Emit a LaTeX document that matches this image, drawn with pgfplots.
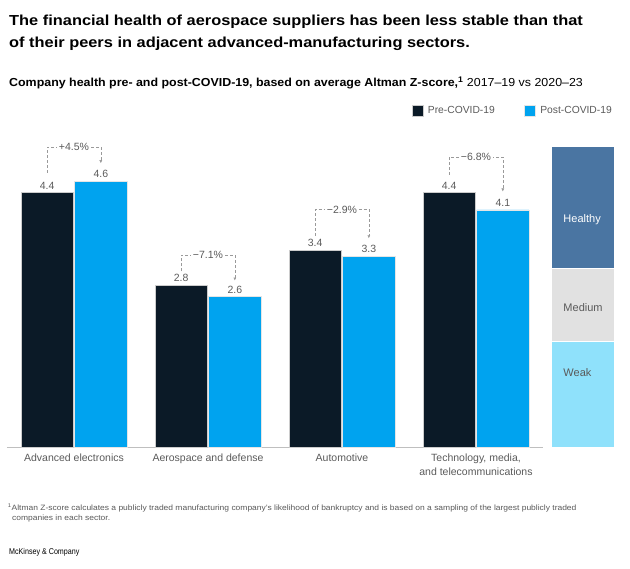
\documentclass[border=0pt]{standalone}
\usepackage{fontspec}
\setmainfont{Liberation Sans}
\newfontfamily\titlefont[FakeStretch=1.13]{Liberation Sans}
\newfontfamily\subfont[FakeStretch=1.07]{Liberation Sans}
\newfontfamily\notefont[FakeStretch=1.1]{Liberation Sans}
\newfontfamily\brandfont[FakeStretch=0.85]{Liberation Sans}
\usepackage{pgfplots}
\pgfplotsset{compat=1.18}
\usetikzlibrary{arrows.meta}
\definecolor{pre}{HTML}{0B1A27}
\definecolor{post}{HTML}{00A3EF}
\definecolor{healthy}{HTML}{4A75A2}
\definecolor{medium}{HTML}{E1E1E1}
\definecolor{weak}{HTML}{8FE1FB}
\definecolor{lab}{HTML}{5A5A5A}
\definecolor{dashc}{HTML}{9A9A9A}
\begin{document}
\begin{tikzpicture}[x=1pt,y=1pt]
\path[use as bounding box] (0pt,0pt) rectangle (630pt,569pt);
% titles
\node[anchor=base west, inner sep=0] at (9pt,543.3pt) {\titlefont\fontsize{14.5}{17}\selectfont\bfseries The financial health of aerospace suppliers has been less stable than that};
\node[anchor=base west, inner sep=0] at (9pt,521.5pt) {\titlefont\fontsize{14.5}{17}\selectfont\bfseries of their peers in adjacent advanced-manufacturing sectors.};
\node[anchor=base west, inner sep=0] at (9pt,482.3pt) {\subfont\fontsize{11.6}{14}\selectfont\textbf{Company health pre- and post-COVID-19, based on average Altman Z-score,\textsuperscript{1}} 2017–19 vs 2020–23};
% footnote
\node[anchor=base west, inner sep=0, text=black!65] at (7.7pt,58.3pt) {\notefont\fontsize{7.7}{10}\selectfont \textsuperscript{1}Altman Z-score calculates a publicly traded manufacturing company’s likelihood of bankruptcy and is based on a sampling of the largest publicly traded};
\node[anchor=base west, inner sep=0, text=black!65] at (12pt,48.3pt) {\notefont\fontsize{7.7}{10}\selectfont companies in each sector.};
\node[anchor=base west, inner sep=0] at (9pt,14pt) {\brandfont\fontsize{8.4}{10}\selectfont McKinsey \& Company};

\begin{axis}[
  at={(7pt,122pt)}, anchor=south west,
  scale only axis, width=536pt, height=300.6pt,
  xmin=-0.5, xmax=3.5, ymin=0, ymax=5.2,
  axis x line=bottom, axis y line=none,
  x axis line style={-, draw=black!25, line width=0.8pt},
  xtick={0,1,2,3}, major tick length=0pt,
  xticklabels={Advanced electronics, Aerospace and defense, Automotive, {Technology, media,\\and telecommunications}},
  xticklabel style={font=\fontsize{10.5}{13.6}\selectfont, text=lab, align=center, yshift=-3.5pt},
  clip=false,
  /pgf/number format/assume math mode=true,
  /pgf/number format/fixed, /pgf/number format/fixed zerofill, /pgf/number format/precision=1,
  nodes near coords style={font=\fontsize{10.5}{12}\selectfont, text=lab},
  legend style={at={(1.1325,1.1178)}, anchor=east, draw=none, fill=none, legend columns=2,
     font=\fontsize{10.3}{12}\selectfont, text=lab, inner sep=0pt,
     /tikz/every odd column/.append style={column sep=3pt},
     /tikz/every even column/.append style={column sep=27pt}},
  legend image code/.code={\fill[#1] (0pt,-5.5pt) rectangle (11pt,5.5pt);},
]
\addplot[ybar, bar width=0.39, bar shift=-0.2, fill=pre, draw=black!20, line width=0.4pt, nodes near coords,
  every node near coord/.append style={xshift=-26.8pt}]
  coordinates {(0,4.4) (1,2.8) (2,3.4) (3,4.4)};
\addplot[ybar, bar width=0.39, bar shift=0.2, fill=post, draw=black!10, line width=0.4pt, nodes near coords,
  every node near coord/.append style={xshift=26.8pt}]
  coordinates {(0,4.6) (1,2.6) (2,3.3) (3,4.1)};
\legend{Pre-COVID-19, Post-COVID-19}
% change brackets
\addplot[dashc, densely dashed, line width=0.5pt, -{Latex[length=3pt,width=3pt]}] coordinates {(-0.2,4.74) (-0.2,5.19) (0.2,5.19) (0.2,4.91)};
\addplot[dashc, densely dashed, line width=0.5pt, -{Latex[length=3pt,width=3pt]}] coordinates {(0.8,3.04) (0.8,3.32) (1.2,3.32) (1.2,2.88)};
\addplot[dashc, densely dashed, line width=0.5pt, -{Latex[length=3pt,width=3pt]}] coordinates {(1.8,3.65) (1.8,4.11) (2.2,4.11) (2.2,3.61)};
\addplot[dashc, densely dashed, line width=0.5pt, -{Latex[length=3pt,width=3pt]}] coordinates {(2.8,4.71) (2.8,5.02) (3.2,5.02) (3.2,4.42)};
\node[fill=white, inner sep=1.5pt, text=lab, font=\fontsize{10.5}{12}\selectfont] at (axis cs:0,5.19) {+4.5\%};
\node[fill=white, inner sep=1.5pt, text=lab, font=\fontsize{10.5}{12}\selectfont] at (axis cs:1,3.32) {−7.1\%};
\node[fill=white, inner sep=1.5pt, text=lab, font=\fontsize{10.5}{12}\selectfont] at (axis cs:2,4.11) {−2.9\%};
\node[fill=white, inner sep=1.5pt, text=lab, font=\fontsize{10.5}{12}\selectfont] at (axis cs:3,5.02) {−6.8\%};
\end{axis}

\begin{axis}[
  at={(551pt,122pt)}, anchor=south west,
  scale only axis, width=63pt, height=300.6pt,
  xmin=0, xmax=1, ymin=0, ymax=5.2,
  hide axis, clip=false,
]
\addplot[fill=weak, draw=white, line width=0.5pt] coordinates {(0,0) (1,0) (1,1.83) (0,1.83)} -- cycle;
\addplot[fill=medium, draw=white, line width=0.5pt] coordinates {(0,1.83) (1,1.83) (1,3.1) (0,3.1)} -- cycle;
\addplot[fill=healthy, draw=white, line width=0.5pt] coordinates {(0,3.1) (1,3.1) (1,5.2) (0,5.2)} -- cycle;
\node[anchor=west, inner sep=0, text=white, font=\fontsize{11}{13}\selectfont] at (axis cs:0.195,3.94) {Healthy};
\node[anchor=west, inner sep=0, text=lab, font=\fontsize{11}{13}\selectfont] at (axis cs:0.195,2.42) {Medium};
\node[anchor=west, inner sep=0, text=lab, font=\fontsize{11}{13}\selectfont] at (axis cs:0.195,1.28) {Weak};
\end{axis}
\end{tikzpicture}
\end{document}
